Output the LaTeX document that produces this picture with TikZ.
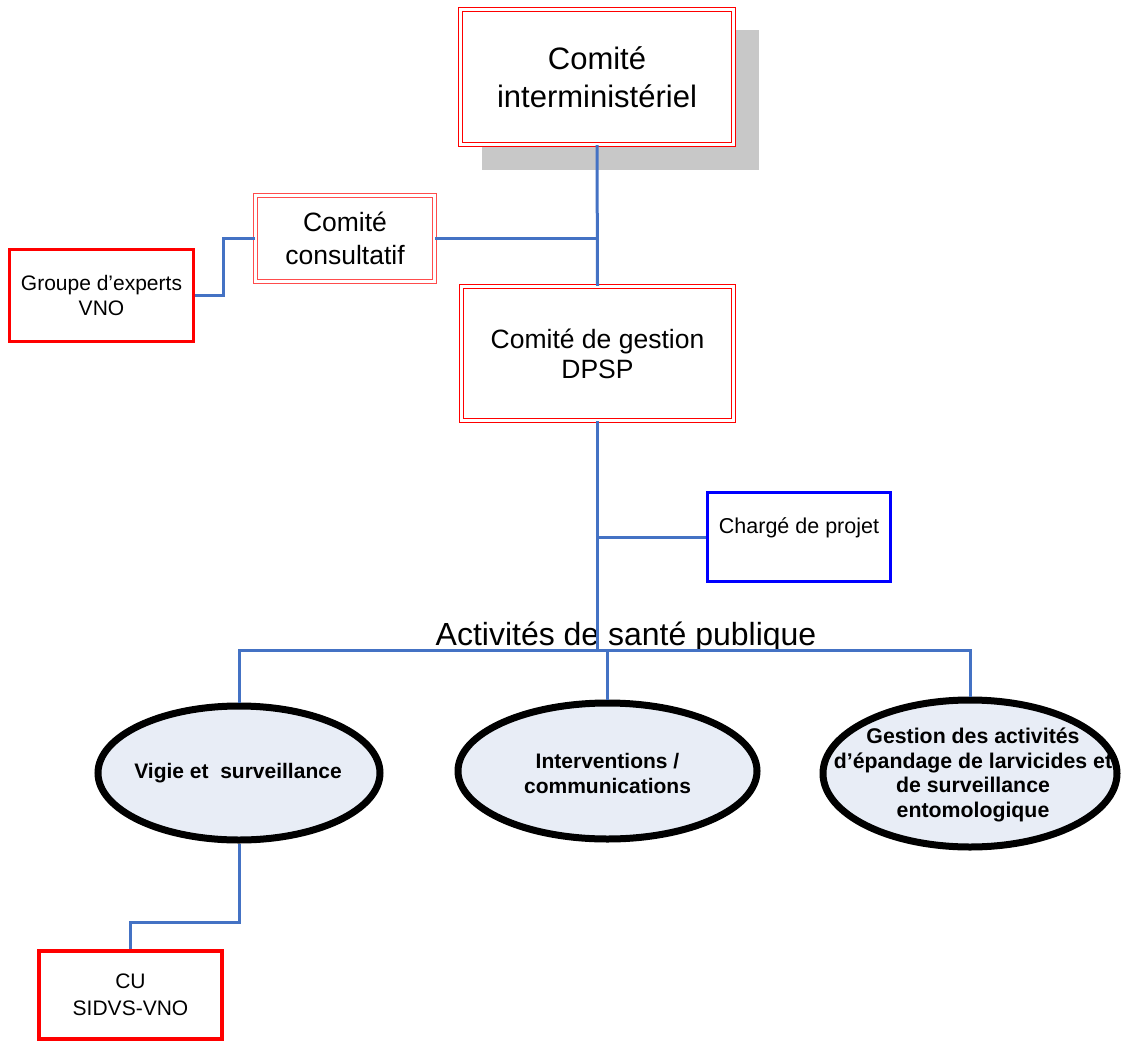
\documentclass[tikz,border=0pt]{standalone}
\usepackage{fontspec}
\setmainfont{Liberation Sans}
\usetikzlibrary{shapes.geometric,calc}
\definecolor{linkblue}{HTML}{4472C4}
\definecolor{ellfill}{HTML}{E8EDF6}
\definecolor{shadowgray}{HTML}{C8C8C8}
\begin{document}
\begin{tikzpicture}[x=1pt,y=-1pt,
  dbox/.style={draw=red, line width=1.3pt, double=white, double distance=2.4pt,
    rectangle, inner sep=0pt, align=center},
  redbox/.style={draw=red, rectangle, inner sep=0pt, align=center},
  bluebox/.style={draw=blue, line width=3pt, rectangle, inner sep=0pt},
  act/.style={ellipse, draw=black, line width=7pt, fill=ellfill, inner sep=0pt},
  acttext/.style={align=center, font=\bfseries\fontsize{21}{25}\selectfont},
  conn/.style={draw=linkblue, line width=3pt}
]
\useasboundingbox (0,0) rectangle (1124,1043);

% shadow of top box
\fill[shadowgray] (482,30) rectangle (759,170);

% boxes
\node[dbox, fill=white, minimum width=272.8pt, minimum height=134.8pt,
  font=\fontsize{31}{38}\selectfont] (ci) at (597,77) {Comité\\interministériel};
\node[dbox, draw=red!70, minimum width=178.8pt, minimum height=85.8pt,
  font=\fontsize{26.5}{33}\selectfont] (cc) at (345,238.5) {Comité\\consultatif};
\node[dbox, minimum width=271.8pt, minimum height=133.8pt,
  font=\fontsize{26.5}{30}\selectfont] (cg) at (597.5,353.5) {Comité de gestion\\DPSP};
\node[redbox, line width=3pt, minimum width=184pt, minimum height=92pt,
  font=\fontsize{21}{25}\selectfont] (ge) at (101.5,295.5) {Groupe d’experts\\VNO};
\node[bluebox, minimum width=183pt, minimum height=89pt] (cp) at (799,537) {};
\node[anchor=base, inner sep=0pt, font=\fontsize{21.5}{25}\selectfont] (cpt) at (799,533) {Chargé de projet};
\node[anchor=base, inner sep=0pt, font=\fontsize{32}{38}\selectfont] (acttitle) at (626,645) {Activités de santé publique};
\node[redbox, line width=4pt, minimum width=183pt, minimum height=88pt,
  font=\fontsize{21}{27}\selectfont] (cu) at (130.5,995) {CU\\SIDVS-VNO};

% ellipses
\node[act, minimum width=282pt, minimum height=134pt] (vig) at (239,773) {};
\node[act, minimum width=299pt, minimum height=136pt] (int) at (607.5,771) {};
\node[act, minimum width=294pt, minimum height=147pt] (gest) at (970,773.5) {};
\node[acttext] (vigt) at (238,773) {Vigie et\ \ surveillance};
\node[acttext] (intt) at (607.5,773) {Interventions /\\communications};
\node[acttext, font=\bfseries\fontsize{21.3}{24.6}\selectfont] (gestt) at (973,775) {Gestion des activités\\d’épandage de larvicides et\\de surveillance\\entomologique};

% connectors
\coordinate (bus) at (597.5,650);
\draw[conn] (ci.south) -- (cg.north);
\draw[conn] (cc.east) -- (cc.east -| ci.south);
\draw[conn] (ge.east) -- ++(28,0) |- (cc.west);
\draw[conn] (cp.west) -- (cp.west -| cg.south);
\draw[conn] (cg.south) -- (bus);
\draw[conn] (vig.north) |- (gest.north |- bus) -- (gest.north);
\draw[conn] (int.north) -- (int.north |- bus);
\draw[conn] (vig.south) -- ++(0,79) -| (cu.north);
\end{tikzpicture}
\end{document}
